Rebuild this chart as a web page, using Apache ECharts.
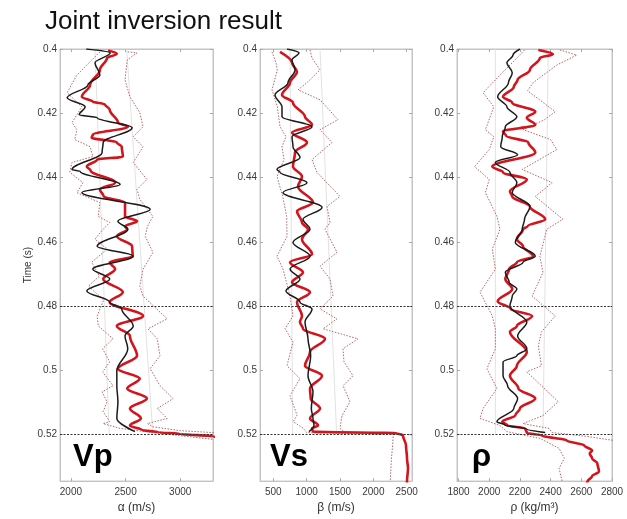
<!DOCTYPE html>
<html>
<head>
<meta charset="utf-8">
<script src="https://cdn.jsdelivr.net/npm/echarts@6/dist/echarts.min.js"></script>
<style>
  html, body { margin: 0; padding: 0; background: #fff; }
  #chart { width: 627px; height: 519px; }
</style>
</head>
<body>
<div id="chart"></div>
<script>
// tick labels
var timeTicks = [0.4, 0.42, 0.44, 0.46, 0.48, 0.5, 0.52];
var vpTicks = [2000, 2500, 3000];
var vsTicks = [500, 1000, 1500, 2000, 2500];
var rhoTicks = [1800, 2000, 2200, 2400, 2600, 2800];
var horizonTimes = [0.4772, 0.5202];

// every series is [time (s), value]
var vpTrue = [[0.4000, 2140], [0.4012, 2360], [0.4043, 2220], [0.4081, 2265], [0.4112, 2155], [0.4152, 1965],
  [0.4180, 2130], [0.4205, 2075], [0.4214, 2240], [0.4245, 2560], [0.4291, 2295], [0.4322, 2285],
  [0.4375, 2010], [0.4381, 2085], [0.4422, 2450], [0.4447, 2100], [0.4499, 2725], [0.4536, 2430],
  [0.4561, 2520], [0.4614, 2240], [0.4645, 2570], [0.4685, 2200], [0.4716, 2355], [0.4753, 2145],
  [0.4788, 2355], [0.4809, 2465], [0.4862, 2570], [0.4893, 2495], [0.4933, 2520], [0.5002, 2420],
  [0.5048, 2420], [0.5098, 2430], [0.5150, 2420], [0.5191, 2585]];
var vpMean = [[0.4005, 2340], [0.4015, 2420], [0.4028, 2330], [0.4065, 2265], [0.4112, 2175], [0.4149, 2100],
  [0.4164, 2200], [0.4172, 2310], [0.4189, 2355], [0.4229, 2430], [0.4242, 2520], [0.4267, 2200],
  [0.4276, 2190], [0.4291, 2420], [0.4304, 2465], [0.4335, 2475], [0.4344, 2240], [0.4366, 2145],
  [0.4378, 2180], [0.4416, 2405], [0.4437, 2265], [0.4459, 2300], [0.4478, 2495], [0.4521, 2495],
  [0.4536, 2605], [0.4552, 2495], [0.4561, 2515], [0.4583, 2420], [0.4614, 2560], [0.4645, 2565],
  [0.4664, 2355], [0.4685, 2405], [0.4716, 2295], [0.4757, 2475], [0.4788, 2355], [0.4831, 2660],
  [0.4862, 2420], [0.4893, 2540], [0.4955, 2605], [0.4995, 2430], [0.5026, 2630], [0.5057, 2515],
  [0.5088, 2695], [0.5119, 2540], [0.5150, 2640], [0.5172, 2540], [0.5186, 2650], [0.5193, 2800],
  [0.5198, 3000], [0.5206, 3300], [0.5215, 3500]];
var vpLow = [[0.4009, 2265], [0.4081, 2055], [0.4136, 1965], [0.4180, 2100], [0.4229, 2010], [0.4251, 2055],
  [0.4282, 2035], [0.4304, 2175], [0.4335, 2200], [0.4353, 2010], [0.4384, 1990], [0.4416, 2110],
  [0.4447, 2055], [0.4478, 2265], [0.4521, 2250], [0.4540, 2355], [0.4561, 2295], [0.4592, 2220],
  [0.4623, 2330], [0.4664, 2190], [0.4707, 2260], [0.4738, 2160], [0.4781, 2300], [0.4831, 2240],
  [0.4862, 2250], [0.4902, 2385], [0.4933, 2290], [0.4974, 2355], [0.5005, 2290], [0.5048, 2385],
  [0.5067, 2285], [0.5098, 2330], [0.5129, 2295], [0.5160, 2355], [0.5166, 2295], [0.5181, 2450],
  [0.5194, 2750], [0.5206, 3060], [0.5215, 3300], [0.5225, 3500]];
var vpHigh = [[0.4009, 2520], [0.4012, 2605], [0.4034, 2515], [0.4096, 2495], [0.4149, 2540], [0.4198, 2630],
  [0.4242, 2660], [0.4273, 2570], [0.4304, 2660], [0.4353, 2570], [0.4406, 2695], [0.4437, 2605],
  [0.4468, 2630], [0.4521, 2750], [0.4552, 2700], [0.4583, 2680], [0.4633, 2750], [0.4685, 2660],
  [0.4738, 2630], [0.4769, 2660], [0.4840, 2880], [0.4871, 2705], [0.4902, 2790], [0.4955, 2815],
  [0.4995, 2725], [0.5048, 2815], [0.5088, 2935], [0.5119, 2790], [0.5150, 2880], [0.5166, 2700],
  [0.5176, 2750], [0.5188, 3000], [0.5194, 3300], [0.5200, 3500]];
// faint background trend lines
var vpPrior = [[[0.4000, 2220], [0.5200, 2350]], [[0.4000, 2510], [0.5200, 2750]]];

var vsTrue = [[0.4000, 705], [0.4012, 885], [0.4034, 780], [0.4065, 825], [0.4105, 720], [0.4143, 525],
  [0.4180, 630], [0.4211, 630], [0.4242, 1080], [0.4273, 780], [0.4304, 795], [0.4338, 900],
  [0.4375, 555], [0.4384, 600], [0.4416, 1005], [0.4447, 645], [0.4493, 1230], [0.4530, 945],
  [0.4561, 1050], [0.4602, 795], [0.4645, 1050], [0.4685, 750], [0.4716, 900], [0.4753, 690],
  [0.4788, 900], [0.4809, 1080], [0.4850, 975], [0.4902, 1020], [0.4955, 1060], [0.5017, 1020],
  [0.5067, 1095], [0.5119, 1070], [0.5150, 1095], [0.5172, 1110], [0.5191, 1035]];
var vsMean = [[0.4009, 600], [0.4043, 780], [0.4071, 855], [0.4105, 750], [0.4143, 630], [0.4167, 795],
  [0.4211, 975], [0.4236, 1080], [0.4260, 780], [0.4291, 1005], [0.4322, 825], [0.4366, 795],
  [0.4397, 930], [0.4428, 870], [0.4478, 1095], [0.4505, 855], [0.4540, 930], [0.4561, 1020],
  [0.4592, 930], [0.4639, 1080], [0.4664, 750], [0.4695, 945], [0.4726, 780], [0.4757, 1050],
  [0.4788, 855], [0.4831, 930], [0.4850, 900], [0.4871, 945], [0.4902, 1275], [0.4943, 1050],
  [0.4986, 975], [0.5017, 1230], [0.5057, 1050], [0.5088, 1060], [0.5119, 1200], [0.5150, 1050],
  [0.5172, 1170], [0.5181, 1080], [0.5191, 1095], [0.5196, 2355], [0.5203, 2445], [0.5234, 2490],
  [0.5274, 2505], [0.5305, 2520], [0.5346, 2505], [0.5360, 2500]];
var vsLow = [[0.4009, 480], [0.4043, 540], [0.4065, 560], [0.4127, 480], [0.4180, 560], [0.4242, 600],
  [0.4273, 690], [0.4304, 630], [0.4344, 660], [0.4397, 555], [0.4459, 640], [0.4521, 700],
  [0.4583, 705], [0.4645, 555], [0.4685, 645], [0.4769, 750], [0.4831, 795], [0.4871, 675],
  [0.4912, 795], [0.4986, 705], [0.5026, 900], [0.5079, 750], [0.5140, 855], [0.5160, 800],
  [0.5181, 950], [0.5194, 1000], [0.5200, 2300], [0.5230, 2290], [0.5280, 2270], [0.5360, 2250]];
var vsHigh = [[0.4003, 1050], [0.4028, 1080], [0.4065, 1200], [0.4105, 1005], [0.4127, 870], [0.4158, 1200],
  [0.4220, 1470], [0.4251, 1200], [0.4291, 1380], [0.4344, 1080], [0.4384, 1155], [0.4459, 1500],
  [0.4490, 1305], [0.4540, 1350], [0.4561, 1275], [0.4633, 1455], [0.4676, 1200], [0.4716, 1350],
  [0.4769, 1395], [0.4809, 1200], [0.4840, 1455], [0.4871, 1245], [0.4902, 1770], [0.4933, 1545],
  [0.4974, 1560], [0.5017, 1695], [0.5048, 1545], [0.5098, 1650], [0.5141, 1530], [0.5181, 1500],
  [0.5191, 1560], [0.5197, 2300], [0.5203, 2700]];
var vsPrior = [[[0.4000, 750], [0.5200, 790]], [[0.4000, 1200], [0.5200, 1450]]];

var rhoTrue = [[0.4000, 2200], [0.4019, 2155], [0.4043, 2115], [0.4074, 2150], [0.4105, 2125], [0.4149, 2055],
  [0.4180, 2115], [0.4211, 2180], [0.4242, 2105], [0.4273, 2085], [0.4304, 2075], [0.4329, 2185],
  [0.4353, 2040], [0.4384, 2135], [0.4416, 2180], [0.4447, 2150], [0.4490, 2265], [0.4530, 2230],
  [0.4561, 2215], [0.4602, 2170], [0.4645, 2300], [0.4664, 2220], [0.4695, 2105], [0.4726, 2130],
  [0.4747, 2180], [0.4769, 2150], [0.4800, 2135], [0.4850, 2245], [0.4893, 2185], [0.4933, 2245],
  [0.4955, 2180], [0.4974, 2090], [0.5017, 2090], [0.5048, 2120], [0.5088, 2185], [0.5119, 2160],
  [0.5160, 2050], [0.5170, 2100], [0.5183, 2245], [0.5194, 2365]];
var rhoMean = [[0.4003, 2320], [0.4016, 2415], [0.4028, 2330], [0.4065, 2265], [0.4096, 2185], [0.4118, 2160],
  [0.4149, 2090], [0.4167, 2150], [0.4195, 2300], [0.4214, 2245], [0.4236, 2300], [0.4257, 2090],
  [0.4270, 2110], [0.4291, 2255], [0.4322, 2300], [0.4366, 2020], [0.4384, 2090], [0.4406, 2245],
  [0.4443, 2135], [0.4459, 2150], [0.4490, 2265], [0.4530, 2365], [0.4552, 2250], [0.4561, 2220],
  [0.4592, 2180], [0.4614, 2220], [0.4645, 2285], [0.4664, 2180], [0.4685, 2130], [0.4716, 2105],
  [0.4747, 2150], [0.4785, 2055], [0.4809, 2140], [0.4831, 2280], [0.4862, 2180], [0.4881, 2135],
  [0.4943, 2245], [0.4986, 2180], [0.5017, 2135], [0.5057, 2190], [0.5088, 2300], [0.5119, 2200],
  [0.5140, 2170], [0.5160, 2085], [0.5172, 2120], [0.5181, 2235], [0.5195, 2245], [0.5203, 2345],
  [0.5219, 2505], [0.5234, 2620], [0.5250, 2670], [0.5259, 2655], [0.5274, 2670], [0.5290, 2705],
  [0.5315, 2715], [0.5330, 2670], [0.5346, 2640], [0.5360, 2620]];
var rhoLow = [[0.4003, 2230], [0.4043, 2150], [0.4074, 2085], [0.4136, 1960], [0.4180, 2030], [0.4251, 1975],
  [0.4273, 2030], [0.4313, 2000], [0.4366, 1905], [0.4406, 2000], [0.4447, 1975], [0.4521, 2050],
  [0.4561, 2070], [0.4623, 2020], [0.4685, 2040], [0.4757, 1940], [0.4831, 2020], [0.4871, 2040],
  [0.4933, 2040], [0.4995, 1985], [0.5057, 2050], [0.5119, 1960], [0.5150, 1940], [0.5172, 2070],
  [0.5191, 2115], [0.5212, 2330], [0.5243, 2455], [0.5274, 2490], [0.5305, 2455], [0.5346, 2475],
  [0.5360, 2480]];
var rhoHigh = [[0.4003, 2460], [0.4019, 2570], [0.4050, 2440], [0.4105, 2285], [0.4130, 2250], [0.4195, 2430],
  [0.4220, 2360], [0.4251, 2220], [0.4282, 2400], [0.4313, 2440], [0.4375, 2215], [0.4416, 2410],
  [0.4459, 2300], [0.4530, 2480], [0.4561, 2375], [0.4645, 2330], [0.4695, 2350], [0.4769, 2280],
  [0.4831, 2430], [0.4881, 2340], [0.4924, 2320], [0.4986, 2340], [0.5005, 2245], [0.5098, 2450],
  [0.5141, 2350], [0.5166, 2220], [0.5181, 2390], [0.5194, 2410], [0.5206, 2640], [0.5225, 2900]];
var rhoPrior = [[[0.4000, 2040], [0.5200, 2040]], [[0.4000, 2385], [0.5200, 2350]]];

var font = 'Liberation Sans';
var panels = [
  {left: 60, width: 153, min: 1900, max: 3300, ticks: vpTicks, name: 'α (m/s)', label: 'Vp', lx: 73,
   data: [vpLow, vpHigh, vpMean, vpTrue], prior: vpPrior},
  {left: 260, width: 152, min: 300, max: 2580, ticks: vsTicks, name: 'β (m/s)', label: 'Vs', lx: 270,
   data: [vsLow, vsHigh, vsMean, vsTrue], prior: vsPrior},
  {left: 457, width: 155, min: 1790, max: 2800, ticks: rhoTicks, name: 'ρ (kg/m³)', label: 'ρ', lx: 472,
   data: [rhoLow, rhoHigh, rhoMean, rhoTrue], prior: rhoPrior}
];

function toXY(arr) {
  return arr.map(function (p) { return [p[1], p[0]]; });
}
function plain(v) { return String(v); }

var grid = [], xAxis = [], yAxis = [], series = [], graphic = [];
var n = panels.length;

panels.forEach(function (p, i) {
  grid.push({left: p.left, top: 49, width: p.width, height: 433, show: true,
    borderColor: '#c4c4c4', borderWidth: 1, backgroundColor: '#fff'});

  xAxis[i] = {
    gridIndex: i, type: 'value', position: 'bottom', min: p.min, max: p.max,
    axisLine: {show: true, lineStyle: {color: '#c4c4c4'}},
    axisTick: {inside: true, length: 3, lineStyle: {color: '#aaa'}, customValues: p.ticks},
    axisLabel: {customValues: p.ticks, formatter: plain, fontSize: 10, color: '#3a3a3a', margin: 6, fontFamily: font},
    splitLine: {show: false},
    name: p.name, nameLocation: 'middle', nameGap: 17,
    nameTextStyle: {fontSize: 12, color: '#333', fontFamily: font}
  };
  xAxis[i + n] = {
    gridIndex: i, type: 'value', position: 'top', min: p.min, max: p.max,
    axisLine: {show: true, lineStyle: {color: '#c4c4c4'}},
    axisTick: {inside: true, length: 3, lineStyle: {color: '#aaa'}, customValues: p.ticks},
    axisLabel: {show: false}, splitLine: {show: false}
  };
  yAxis[i] = {
    gridIndex: i, type: 'value', inverse: true, position: 'left', min: 0.4, max: 0.5345,
    axisLine: {show: true, lineStyle: {color: '#c4c4c4'}},
    axisTick: {inside: true, length: 3, lineStyle: {color: '#aaa'}, customValues: timeTicks},
    axisLabel: {customValues: timeTicks, formatter: plain, fontSize: 10, color: '#3a3a3a', margin: 3, fontFamily: font},
    splitLine: {show: false},
    name: i === 0 ? 'Time (s)' : '', nameLocation: 'middle', nameGap: 27,
    nameTextStyle: {fontSize: 10, color: '#333', fontFamily: font}
  };
  yAxis[i + n] = {
    gridIndex: i, type: 'value', inverse: true, position: 'right', min: 0.4, max: 0.5345,
    axisLine: {show: true, lineStyle: {color: '#c4c4c4'}},
    axisTick: {inside: true, length: 3, lineStyle: {color: '#aaa'}, customValues: timeTicks},
    axisLabel: {show: false}, splitLine: {show: false}
  };

  var base = {type: 'line', xAxisIndex: i, yAxisIndex: i, showSymbol: false, silent: true, animation: false};
  // faint background lines
  p.prior.forEach(function (arr) {
    series.push(Object.assign({}, base, {
      data: toXY(arr), lineStyle: {color: '#e2e2e2', width: 1}
    }));
  });
  // lower and upper bounds (dotted)
  [0, 1].forEach(function (k) {
    var s = Object.assign({}, base, {
      data: toXY(p.data[k]),
      lineStyle: {color: '#b86464', width: 1, type: [1.5, 1.5]}
    });
    if (k === 0) {
      s.markLine = {
        symbol: 'none', silent: true, label: {show: false},
        lineStyle: {color: '#333', width: 1, type: [2, 1.5]},
        data: horizonTimes.map(function (t) { return {yAxis: t}; })
      };
    }
    series.push(s);
  });
  // mean (red)
  series.push(Object.assign({}, base, {
    data: toXY(p.data[2]), smooth: 0.35, smoothMonotone: 'y',
    lineStyle: {color: '#d3141c', width: 2.6}
  }));
  // true model (black)
  series.push(Object.assign({}, base, {
    data: toXY(p.data[3]), smooth: 0.35, smoothMonotone: 'y',
    lineStyle: {color: '#1b1b1b', width: 1.5}
  }));

  graphic.push({
    type: 'text', left: p.lx, top: 442, z: 100,
    style: {text: p.label, font: 'bold 31px ' + font, fill: '#000'}
  });
});

var chart = echarts.init(document.getElementById('chart'), null, {renderer: 'canvas'});
chart.setOption({
  backgroundColor: '#fff',
  animation: false,
  title: {
    text: 'Joint inversion result', left: 40, top: 4,
    textStyle: {fontSize: 26, fontWeight: 'normal', color: '#111', fontFamily: font}
  },
  grid: grid,
  xAxis: xAxis,
  yAxis: yAxis,
  series: series,
  graphic: graphic
});
</script>
</body>
</html>
